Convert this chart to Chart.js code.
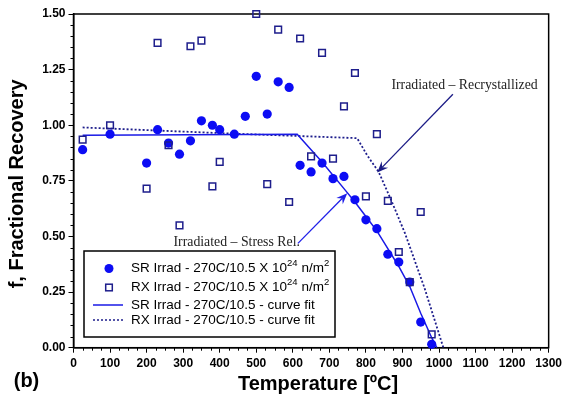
<!DOCTYPE html>
<html><head><meta charset="utf-8">
<script src="https://cdn.jsdelivr.net/npm/chart.js@4"></script>
<style>html,body{margin:0;padding:0;background:#fff;}canvas{display:block}</style>
</head><body>
<canvas id="c" width="566" height="396"></canvas>
<script>
// ---- data ----
const srTemp = [25,100,200,230,260,290,320,350,380,400,440,470,500,530,560,590,620,650,680,710,740,770,800,830,860,890,920,950,980];
const srFrac = [0.89,0.96,0.83,0.98,0.92,0.87,0.93,1.02,1.00,0.98,0.96,1.04,1.22,1.05,1.195,1.17,0.82,0.79,0.83,0.76,0.77,0.665,0.575,0.535,0.42,0.385,0.295,0.115,0.015];
const rxTemp = [25,100,200,230,260,290,320,350,380,400,500,530,560,590,620,650,680,710,740,770,800,830,860,890,920,950,980];
const rxFrac = [0.935,1.00,0.715,1.37,0.91,0.55,1.355,1.38,0.725,0.835,1.50,0.735,1.43,0.655,1.39,0.86,1.325,0.85,1.085,1.235,0.68,0.96,0.66,0.43,0.295,0.61,0.06];
const srFitTemp = [25,612,680,740,770,800,830,860,890,920,950,980,994];
const srFitFrac = [0.955,0.96,0.835,0.715,0.655,0.59,0.525,0.445,0.365,0.275,0.155,0.045,0];
const rxFitTemp = [25,440,776,803,835,870,907,960,1012];
const rxFitFrac = [0.99,0.962,0.942,0.866,0.79,0.66,0.514,0.27,0];
const xTickValues = [0,100,200,300,400,500,600,700,800,900,1000,1100,1200,1300];
const yTickValues = [0,0.25,0.5,0.75,1.0,1.25,1.5];
const legendLabels = [
  ['SR Irrad - 270C/10.5 X 10','24',' n/m','2'],
  ['RX Irrad - 270C/10.5 X 10','24',' n/m','2'],
  ['SR Irrad - 270C/10.5 - curve fit'],
  ['RX Irrad - 270C/10.5 - curve fit']
];
const xTitle = 'Temperature [ºC]';
const yTitle = 'f, Fractional Recovery';
const panelLabel = '(b)';
const notes = [
  {text:'Irradiated – Recrystallized', tx:1070, ty:1.181, from:[1038,1.139], to:[831,0.788], color:'#1c1c86'},
  {text:'Irradiated – Stress Rel.', tx:446.5, ty:0.475, from:[614,0.469], to:[749,0.694], color:'#1f1fe8'}
];

const SANS = '"Liberation Sans", Arial, Helvetica, sans-serif';
const SERIF = '"Liberation Serif", "Times New Roman", serif';
const SR_COLOR = '#0c0cf4';
const RX_COLOR = '#1e1e8c';
const SR_LINE = '#1a1ae6';

const pts = (xs, ys) => xs.map((v,i)=>({x:v, y:ys[i]}));

function drawArrow(ctx, x1, y1, x2, y2, color){
  const a = Math.atan2(y2-y1, x2-x1), c = Math.cos(a), s = Math.sin(a);
  const L = 11, W = 4.5;
  ctx.strokeStyle = color; ctx.lineWidth = 1.3;
  ctx.beginPath(); ctx.moveTo(x1,y1); ctx.lineTo(x2 - 7*c, y2 - 7*s); ctx.stroke();
  ctx.fillStyle = color;
  ctx.beginPath();
  ctx.moveTo(x2, y2);
  ctx.lineTo(x2 - L*c + W*s, y2 - L*s - W*c);
  ctx.lineTo(x2 - 0.65*L*c, y2 - 0.65*L*s);
  ctx.lineTo(x2 - L*c - W*s, y2 - L*s + W*c);
  ctx.closePath(); ctx.fill();
}

const overlay = {
  id: 'overlay',
  beforeDatasetsDraw(chart){
    const {ctx, chartArea:a, scales:{x, y}} = chart;
    ctx.save();
    ctx.strokeStyle = '#000'; ctx.lineWidth = 1;
    ctx.beginPath();
    for (let v = 25; v < 1300; v += 25){
      if (v % 100 === 0) continue;
      const px = Math.round(x.getPixelForValue(v)) + 0.5;
      ctx.moveTo(px, a.bottom); ctx.lineTo(px, a.bottom + 3);
    }
    for (let i = 1; i < 30; i++){
      if (i % 5 === 0) continue;
      const py = Math.round(y.getPixelForValue(i*0.05)) + 0.5;
      ctx.moveTo(a.left - 3, py); ctx.lineTo(a.left, py);
    }
    ctx.stroke();
    ctx.lineWidth = 1.5;
    ctx.strokeRect(a.left, a.top, a.right - a.left, a.bottom - a.top);
    ctx.restore();
  },
  afterDraw(chart){
    const {ctx, chartArea:a, scales:{x, y}} = chart;
    ctx.save();
    // axis titles
    ctx.fillStyle = '#000';
    ctx.font = 'bold 20px ' + SANS;
    ctx.textAlign = 'center'; ctx.textBaseline = 'middle';
    ctx.fillText(xTitle, (a.left + a.right)/2 + 7, 384.5);
    ctx.fillText(panelLabel, 26.5, 381);
    ctx.save();
    ctx.translate(17.5, (a.top + a.bottom)/2 + 3);
    ctx.rotate(-Math.PI/2);
    ctx.fillText(yTitle, 0, 0);
    ctx.restore();

    // annotations
    ctx.font = '13.8px ' + SERIF;
    notes.forEach(n => {
      ctx.fillStyle = '#222';
      ctx.textAlign = 'center'; ctx.textBaseline = 'middle';
      ctx.fillText(n.text, x.getPixelForValue(n.tx), y.getPixelForValue(n.ty));
      drawArrow(ctx, x.getPixelForValue(n.from[0]), y.getPixelForValue(n.from[1]),
                x.getPixelForValue(n.to[0]), y.getPixelForValue(n.to[1]), n.color);
    });

    // legend box
    const bx = 84, by = 251, bw = 251, bh = 86;
    ctx.fillStyle = '#fff'; ctx.fillRect(bx, by, bw, bh);
    ctx.strokeStyle = '#000'; ctx.lineWidth = 1.5; ctx.strokeRect(bx, by, bw, bh);
    const rows = [268.5, 287.5, 305, 320];
    const mx = 109;
    ctx.fillStyle = SR_COLOR;
    ctx.beginPath(); ctx.arc(mx, rows[0], 4.5, 0, Math.PI*2); ctx.fill();
    ctx.strokeStyle = RX_COLOR; ctx.lineWidth = 1.5;
    ctx.strokeRect(mx - 3.3, rows[1] - 3.3, 6.6, 6.6);
    ctx.strokeStyle = SR_LINE; ctx.lineWidth = 1.5;
    ctx.beginPath(); ctx.moveTo(93, rows[2]); ctx.lineTo(123, rows[2]); ctx.stroke();
    ctx.strokeStyle = RX_COLOR; ctx.setLineDash([2,2]);
    ctx.beginPath(); ctx.moveTo(93, rows[3]); ctx.lineTo(123, rows[3]); ctx.stroke();
    ctx.setLineDash([]);
    ctx.fillStyle = '#000'; ctx.textAlign = 'left'; ctx.textBaseline = 'middle';
    legendLabels.forEach((parts, r) => {
      let cx = 131;
      parts.forEach((t, k) => {
        const sup = k % 2 === 1;
        ctx.font = (sup ? '9.5px ' : '13.5px ') + SANS;
        ctx.fillText(t, cx, rows[r] - (sup ? 5.5 : 0));
        cx += ctx.measureText(t).width;
      });
    });
    ctx.restore();
  }
};

Chart.defaults.font.family = SANS;
new Chart(document.getElementById('c'), {
  type: 'scatter',
  data: {
    datasets: [
      {label:'RX', data: pts(rxTemp, rxFrac), pointStyle:'rect', pointRadius:4.7,
       borderColor: RX_COLOR, borderWidth:1.5, backgroundColor:'rgba(0,0,0,0)', order:0, clip:false},
      {label:'SR', data: pts(srTemp, srFrac), pointStyle:'circle', pointRadius:4.6,
       backgroundColor: SR_COLOR, borderColor: SR_COLOR, borderWidth:0, order:1, clip:false},
      {label:'SR fit', type:'line', data: pts(srFitTemp, srFitFrac), showLine:true, pointRadius:0,
       borderColor: SR_LINE, borderWidth:1.5, fill:false, tension:0, order:2},
      {label:'RX fit', type:'line', data: pts(rxFitTemp, rxFitFrac), showLine:true, pointRadius:0,
       borderColor: RX_COLOR, borderWidth:1.8, borderDash:[2,2], fill:false, tension:0, order:3}
    ]
  },
  options: {
    responsive: false, animation: false, devicePixelRatio: 1,
    layout: {padding: {left:0, top:14, right:12.7, bottom:0}, autoPadding: false},
    plugins: {legend: {display:false}, tooltip: {enabled:false}},
    scales: {
      x: {
        type:'linear', min:0, max:1300,
        afterBuildTicks: s => { s.ticks = xTickValues.map(v => ({value:v})); },
        afterFit: s => { s.height = 48.3; },
        ticks: {color:'#000', font:{size:12, weight:'bold'}, padding:4, maxRotation:0, autoSkip:false,
                callback: v => String(v)},
        grid: {drawOnChartArea:false, drawTicks:true, tickLength:5, color:'#000', lineWidth:1},
        border: {display:true, color:'#000', width:1.5}
      },
      y: {
        type:'linear', min:0, max:1.5,
        afterBuildTicks: s => { s.ticks = yTickValues.map(v => ({value:v})); },
        afterFit: s => { s.width = 73.5; },
        ticks: {color:'#000', font:{size:12, weight:'bold'}, padding:3, autoSkip:false,
                callback: v => Number(v).toFixed(2)},
        grid: {drawOnChartArea:false, drawTicks:true, tickLength:5, color:'#000', lineWidth:1},
        border: {display:true, color:'#000', width:1.5}
      }
    }
  },
  plugins: [overlay]
});
</script>
</body></html>
